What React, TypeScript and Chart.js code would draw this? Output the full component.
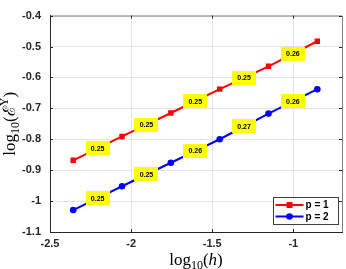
import React, { useEffect, useRef } from 'react';
import { Chart, registerables } from 'chart.js';

Chart.register(...registerables);

// log10(h) values
const logH = [-2.357, -2.056, -1.755, -1.454, -1.153, -0.852];
// log10(E^Y) for p = 1 and p = 2
const errP1 = [-0.868, -0.791, -0.715, -0.638, -0.564, -0.483];
const errP2 = [-1.029, -0.952, -0.876, -0.8, -0.717, -0.638];
// convergence rate labels between consecutive points
const rateP1 = ['0.25', '0.25', '0.25', '0.25', '0.26'];
const rateP2 = ['0.25', '0.25', '0.26', '0.27', '0.26'];
const seriesNames = ['p = 1', 'p = 2'];
const seriesColors = ['#ff0000', '#0000ff'];
const xTicks = [-2.5, -2, -1.5, -1];
const yTicks = [-1.1, -1, -0.9, -0.8, -0.7, -0.6, -0.5, -0.4];

const SERIF = '"Liberation Serif", "DejaVu Serif", serif';
const SANS = '"Liberation Sans", Arial, sans-serif';

type Seg = { text: string; font: string; dy: number };

function drawRich(ctx: CanvasRenderingContext2D, segs: Seg[], cx: number, y: number) {
  let total = 0;
  const widths = segs.map((s) => {
    ctx.font = s.font;
    const w = ctx.measureText(s.text).width;
    total += w;
    return w;
  });
  let x = cx - total / 2;
  ctx.textAlign = 'left';
  ctx.textBaseline = 'alphabetic';
  segs.forEach((s, i) => {
    ctx.font = s.font;
    ctx.fillText(s.text, x, y + s.dy);
    x += widths[i];
  });
}

const ratesByDataset = [rateP1, rateP2];

const decorPlugin = {
  id: 'decor',
  afterDatasetsDraw(chart: any) {
    const ctx: CanvasRenderingContext2D = chart.ctx;
    const { left, right, top, bottom } = chart.chartArea;
    const xs = chart.scales.x;
    const ys = chart.scales.y;
    ctx.save();
    // rate boxes
    chart.data.datasets.forEach((ds: any, di: number) => {
      const rates = ratesByDataset[di];
      for (let i = 0; i < rates.length; i++) {
        const p0 = ds.data[i];
        const p1 = ds.data[i + 1];
        const mx = (xs.getPixelForValue(p0.x) + xs.getPixelForValue(p1.x)) / 2;
        const my = (ys.getPixelForValue(p0.y) + ys.getPixelForValue(p1.y)) / 2;
        const bw = 24;
        const bh = 14;
        ctx.fillStyle = '#ffff00';
        ctx.fillRect(Math.round(mx - bw / 2), Math.round(my - bh / 2), bw, bh);
        ctx.fillStyle = '#000';
        ctx.font = `bold 7px ${SANS}`;
        ctx.textAlign = 'center';
        ctx.textBaseline = 'middle';
        ctx.fillText(rates[i], mx, my + 0.5);
      }
    });
    // top/right frame
    ctx.strokeStyle = '#808080';
    ctx.lineWidth = 1;
    ctx.beginPath();
    ctx.moveTo(left, top + 0.5);
    ctx.lineTo(right + 0.5, top + 0.5);
    ctx.lineTo(right + 0.5, bottom);
    ctx.stroke();
    // inward ticks
    ctx.strokeStyle = '#262626';
    ctx.beginPath();
    xTicks.forEach((v) => {
      const px = Math.round(xs.getPixelForValue(v)) + 0.5;
      ctx.moveTo(px, bottom);
      ctx.lineTo(px, bottom - 3);
      ctx.moveTo(px, top);
      ctx.lineTo(px, top + 3);
    });
    yTicks.forEach((v) => {
      const py = Math.round(ys.getPixelForValue(v)) + 0.5;
      ctx.moveTo(left, py);
      ctx.lineTo(left + 3, py);
      ctx.moveTo(right, py);
      ctx.lineTo(right - 3, py);
    });
    ctx.stroke();
    // legend
    const lx = 273.5;
    const ly = 197.5;
    const lw = 65;
    const lh = 27;
    ctx.fillStyle = '#ffffff';
    ctx.fillRect(lx, ly, lw, lh);
    ctx.strokeStyle = '#404040';
    ctx.strokeRect(lx, ly, lw, lh);
    chart.data.datasets.forEach((ds: any, di: number) => {
      const yy = ly + 7.5 + di * 11.5;
      ctx.strokeStyle = ds.borderColor;
      ctx.lineWidth = 2;
      ctx.beginPath();
      ctx.moveTo(lx + 2, yy);
      ctx.lineTo(lx + 30, yy);
      ctx.stroke();
      ctx.fillStyle = ds.borderColor;
      const cx = lx + 16;
      if (di === 0) {
        ctx.fillRect(cx - 3, yy - 3, 6, 6);
      } else {
        ctx.beginPath();
        ctx.arc(cx, yy, 3.3, 0, Math.PI * 2);
        ctx.fill();
      }
      ctx.fillStyle = '#000';
      ctx.font = `bold 10px ${SANS}`;
      ctx.textAlign = 'left';
      ctx.textBaseline = 'middle';
      ctx.fillText(ds.label, lx + 32, yy + 0.5);
    });
    ctx.restore();
  },
  afterDraw(chart: any) {
    const ctx: CanvasRenderingContext2D = chart.ctx;
    const { left, right, top, bottom } = chart.chartArea;
    ctx.save();
    ctx.fillStyle = '#000';
    // x title
    drawRich(
      ctx,
      [
        { text: 'log', font: `17px ${SERIF}`, dy: 0 },
        { text: '10', font: `12px ${SERIF}`, dy: 4 },
        { text: '(', font: `17px ${SERIF}`, dy: 0 },
        { text: 'h', font: `italic 17px ${SERIF}`, dy: 0 },
        { text: ')', font: `17px ${SERIF}`, dy: 0 },
      ],
      (left + right) / 2,
      265
    );
    // y title
    ctx.translate(15, (top + bottom) / 2);
    ctx.rotate(-Math.PI / 2);
    drawRich(
      ctx,
      [
        { text: 'log', font: `17px ${SERIF}`, dy: 0 },
        { text: '10', font: `12px ${SERIF}`, dy: 4 },
        { text: '(', font: `17px ${SERIF}`, dy: 0 },
        { text: '\u2130', font: `17px ${SERIF}`, dy: 0 },
        { text: 'Y', font: `12px ${SERIF}`, dy: -7 },
        { text: ')', font: `17px ${SERIF}`, dy: 0 },
      ],
      0,
      0
    );
    ctx.restore();
  },
};

export default function App() {
  const canvasRef = useRef<HTMLCanvasElement | null>(null);

  useEffect(() => {
    const canvas = canvasRef.current;
    if (!canvas) return;
    const mk = (ys: number[]) => logH.map((x, i) => ({ x, y: ys[i] }));
    const chart = new Chart(canvas, {
      type: 'line',
      data: {
        datasets: [
          {
            label: seriesNames[0],
            data: mk(errP1),
            borderColor: seriesColors[0],
            backgroundColor: seriesColors[0],
            borderWidth: 2,
            pointStyle: 'rect',
            pointRadius: 3.8,
            pointBorderWidth: 0,
          },
          {
            label: seriesNames[1],
            data: mk(errP2),
            borderColor: seriesColors[1],
            backgroundColor: seriesColors[1],
            borderWidth: 2,
            pointStyle: 'circle',
            pointRadius: 3.3,
            pointBorderWidth: 0,
          },
        ],
      },
      options: {
        animation: false,
        responsive: false,
        devicePixelRatio: 1,
        layout: { padding: { left: 0, top: 5, right: 2, bottom: 0 } },
        plugins: { legend: { display: false }, tooltip: { enabled: false } },
        scales: {
          x: {
            type: 'linear',
            min: -2.5,
            max: -0.7,
            afterFit: (s: any) => {
              s.height = 37;
            },
            afterBuildTicks: (s: any) => {
              s.ticks = xTicks.map((v) => ({ value: v }));
            },
            ticks: {
              padding: 5,
              color: '#262626',
              font: { family: SANS, size: 11, weight: 'bold' },
              callback: (v: any) => String(Number(Number(v).toFixed(1))),
            },
            grid: { color: '#e3e3e3', drawTicks: false, lineWidth: 1 },
            border: { color: '#262626', width: 1 },
          },
          y: {
            type: 'linear',
            min: -1.1,
            max: -0.4,
            afterFit: (s: any) => {
              s.width = 50;
            },
            afterBuildTicks: (s: any) => {
              s.ticks = yTicks.map((v) => ({ value: v }));
            },
            ticks: {
              padding: 9,
              color: '#262626',
              font: { family: SANS, size: 11, weight: 'bold' },
              callback: (v: any) => String(Number(Number(v).toFixed(1))),
            },
            grid: { color: '#e3e3e3', drawTicks: false, lineWidth: 1 },
            border: { color: '#262626', width: 1 },
          },
        },
      },
      plugins: [decorPlugin],
    });
    return () => chart.destroy();
  }, []);

  return (
    <div style={{ position: 'fixed', left: 0, top: 0, width: 346, height: 269, background: '#fff' }}>
      <canvas ref={canvasRef} width={346} height={269} style={{ display: 'block' }} />
    </div>
  );
}
